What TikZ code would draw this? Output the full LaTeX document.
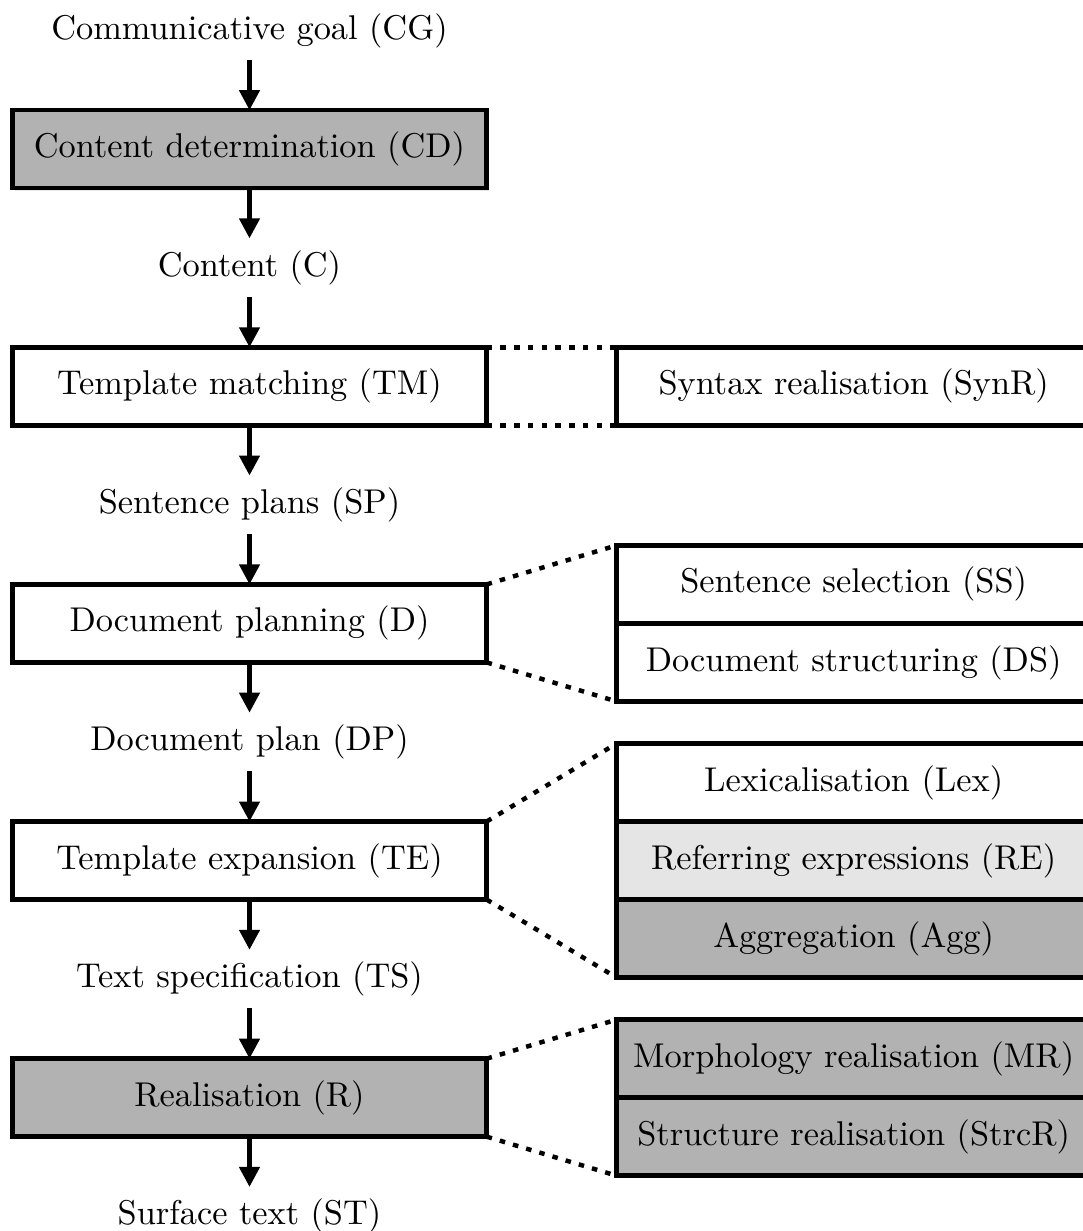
\documentclass[tikz,border=0pt]{standalone}
\usetikzlibrary{positioning,arrows.meta,shadows}

\begin{document}
\begin{tikzpicture}[node distance=34.5pt, every node/.style={align=center},
  stage/.style={draw, line width=1.3pt, minimum width=138pt, minimum height=22.7pt, outer sep=0pt, fill=white,
    drop shadow={opacity=0.2, shadow xshift=0.7pt, shadow yshift=-0.7pt}},
  dark/.style={fill=black!30},
  light/.style={fill=black!10},
  flow/.style={line width=1.3pt, -{Triangle[length=5.8pt,width=5.8pt]}},
  link/.style={line width=1.3pt, dash pattern=on 1.6pt off 2.4pt}]
\useasboundingbox (-72.6pt,8.9pt) rectangle (242.5pt,-349.3pt);

% main pipeline
\node (cg) {Communicative goal (CG)};
\node (cd) [stage, dark, below of=cg] {Content determination (CD)};
\node (c) [below of=cd] {Content (C)};
\node (tm) [stage, below of=c] {Template matching (TM)};
\node (sp) [below of=tm] {Sentence plans (SP)};
\node (d) [stage, below of=sp] {Document planning (D)};
\node (dp) [below of=d] {Document plan (DP)};
\node (te) [stage, below of=dp] {Template expansion (TE)};
\node (ts) [below of=te] {Text specification (TS)};
\node (r) [stage, dark, below of=ts] {Realisation (R)};
\node (st) [below of=r] {Surface text (ST)};

\draw[flow] (cg) -- (cd);
\draw[flow] (cd) -- (c);
\draw[flow] (c) -- (tm);
\draw[flow] (tm) -- (sp);
\draw[flow] (sp) -- (d);
\draw[flow] (d) -- (dp);
\draw[flow] (dp) -- (te);
\draw[flow] (te) -- (ts);
\draw[flow] (ts) -- (r);
\draw[flow] (r) -- (st);

% sub-tasks
\node (synr) [stage, right=37.8pt of tm] {Syntax realisation (SynR)};

\node (ss) [stage, anchor=south west] at ([xshift=37.8pt]d.east) {Sentence selection (SS)};
\node (ds) [stage, below=0pt of ss] {Document structuring (DS)};

\node (lex) [stage, anchor=south west] at ([xshift=37.8pt, yshift=11.35pt]te.east) {Lexicalisation (Lex)};
\node (re) [stage, light, below=0pt of lex] {Referring expressions (RE)};
\node (agg) [stage, dark, below=0pt of re] {Aggregation (Agg)};

\node (mr) [stage, dark, anchor=south west] at ([xshift=37.8pt]r.east) {Morphology realisation (MR)};
\node (strcr) [stage, dark, below=0pt of mr] {Structure realisation (StrcR)};

\draw[link] (tm.north east) -- (synr.north west);
\draw[link] (tm.south east) -- (synr.south west);
\draw[link] (d.north east) -- (ss.north west);
\draw[link] (d.south east) -- (ds.south west);
\draw[link] (te.north east) -- (lex.north west);
\draw[link] (te.south east) -- (agg.south west);
\draw[link] (r.north east) -- (mr.north west);
\draw[link] (r.south east) -- (strcr.south west);
\end{tikzpicture}
\end{document}
